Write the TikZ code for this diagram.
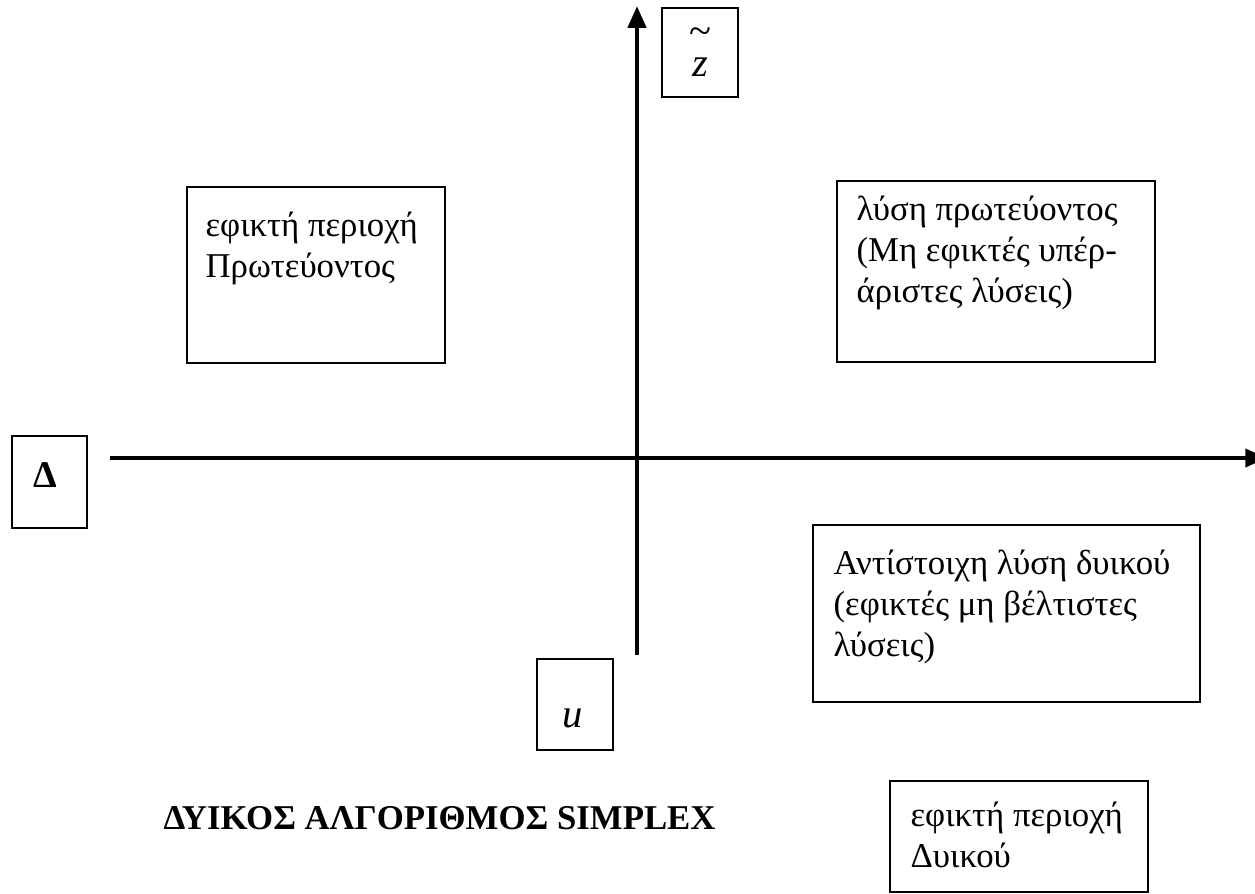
\documentclass[tikz,border=0pt]{standalone}
\usepackage{fontspec}
\setmainfont{Liberation Serif}
\usetikzlibrary{arrows.meta}
\begin{document}
\begin{tikzpicture}[x=0.345pt,y=-0.345pt,
  frame/.style={draw,line width=0.7pt,inner sep=0pt},
  txt/.style={anchor=base west,align=left,inner sep=0pt,font=\fontsize{12}{14}\selectfont},
  axis/.style={line width=1.4pt,-{Triangle[length=7.5pt,width=6.2pt]}}]
\useasboundingbox (0,0) rectangle (1255,893);
% axes
\coordinate (vb) at (637,655);
\coordinate (vt) at (637,6);
\coordinate (hl) at (110,458);
\coordinate (hr) at (1267,458);
\draw[axis] (vb) -- (vt);
\draw[axis] (hl) -- (hr);
% small label boxes
\node[frame,minimum width=76*0.345pt,minimum height=89*0.345pt] (zb) at (700,52.5) {};
\node[anchor=base,inner sep=0pt,font=\fontsize{14}{14}\selectfont] (zl) at (700,76) {\ooalign{\textit{z}\cr\hidewidth\raisebox{11pt}{\char"007E}\hidewidth\cr}};
\node[frame,minimum width=75*0.345pt,minimum height=92*0.345pt] (db) at (49.5,482) {};
\node[inner sep=0pt,font=\fontsize{13}{13}\selectfont\bfseries] (dl) at (45,475) {Δ};
\node[frame,minimum width=76*0.345pt,minimum height=91*0.345pt] (ub) at (575,704.5) {};
\node[inner sep=0pt,font=\fontsize{14}{14}\selectfont] (ul) at (573,718) {\textit{u}};
% text boxes
\node[frame,minimum width=258*0.345pt,minimum height=176*0.345pt] (b1) at (316,275) {};
\node[txt] (t1) at (205,277) {εφικτή περιοχή\\Πρωτεύοντος};
\node[frame,minimum width=318*0.345pt,minimum height=181*0.345pt] (b2) at (996,271.5) {};
\node[txt] (t2) at (856,302) {λύση πρωτεύοντος\\(Μη εφικτές υπέρ-\\άριστες λύσεις)};
\node[frame,minimum width=387*0.345pt,minimum height=177*0.345pt] (b3) at (1006.5,613.5) {};
\node[txt] (t3) at (833,656) {Αντίστοιχη λύση δυικού\\(εφικτές μη βέλτιστες\\λύσεις)};
\node[frame,minimum width=258*0.345pt,minimum height=111*0.345pt] (b4) at (1019,836) {};
\node[txt] (t4) at (910,867) {εφικτή περιοχή\\Δυικού};
% title
\node[anchor=west,inner sep=0pt,font=\fontsize{12}{12}\selectfont\bfseries] (title) at (163,818) {ΔΥΙΚΟΣ ΑΛΓΟΡΙΘΜΟΣ SIMPLEX};
\end{tikzpicture}
\end{document}
